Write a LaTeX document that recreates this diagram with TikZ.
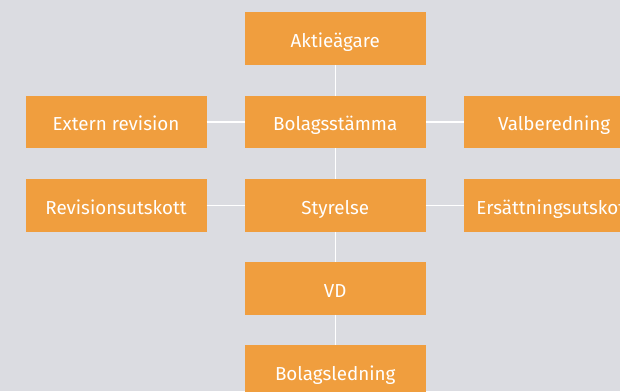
\documentclass[tikz,border=0pt]{standalone}
\usepackage{fontspec}
\setmainfont{Fira Sans}
\definecolor{boxorange}{RGB}{240,158,62}
\definecolor{bggrey}{RGB}{219,220,225}

\tikzset{
    orgbox/.style={fill=boxorange, draw=none, minimum width=181pt, minimum height=52.5pt,
        text=white, font=\fontsize{18.8}{22}\selectfont, inner sep=0pt,
        text height=17.4pt, text depth=0pt},
    orgline/.style={draw=white, line width=1.3pt}
}

\begin{document}
\begin{tikzpicture}[x=1pt, y=1pt]
    \clip (0,0) rectangle (620,-391);
    \fill[bggrey] (0,0) rectangle (620,-391);
    % middle column
    \node[orgbox] (aktie) at (335.2,-38.7) {Aktieägare};
    \node[orgbox] (stamma) at (335.2,-122) {Bolagsstämma};
    \node[orgbox] (styrelse) at (335.2,-205.3) {Styrelse};
    \node[orgbox] (vd) at (335.2,-288.3) {VD};
    \node[orgbox] (ledning) at (335.2,-371.7) {Bolagsledning};
    % side columns
    \node[orgbox] (extern) at (116,-122) {Extern revision};
    \node[orgbox] (revutskott) at (116,-205.3) {Revisionsutskott};
    \node[orgbox] (valber) at (554.2,-122) {Valberedning};
    \node[orgbox] (ersutskott) at (554.2,-205.3) {Ersättningsutskott};

    \draw[orgline] (aktie) -- (stamma);
    \draw[orgline] (stamma) -- (styrelse);
    \draw[orgline] (styrelse) -- (vd);
    \draw[orgline] (vd) -- (ledning);
    \draw[orgline] (extern) -- (stamma);
    \draw[orgline] (stamma) -- (valber);
    \draw[orgline] (revutskott) -- (styrelse);
    \draw[orgline] (styrelse) -- (ersutskott);
\end{tikzpicture}
\end{document}
